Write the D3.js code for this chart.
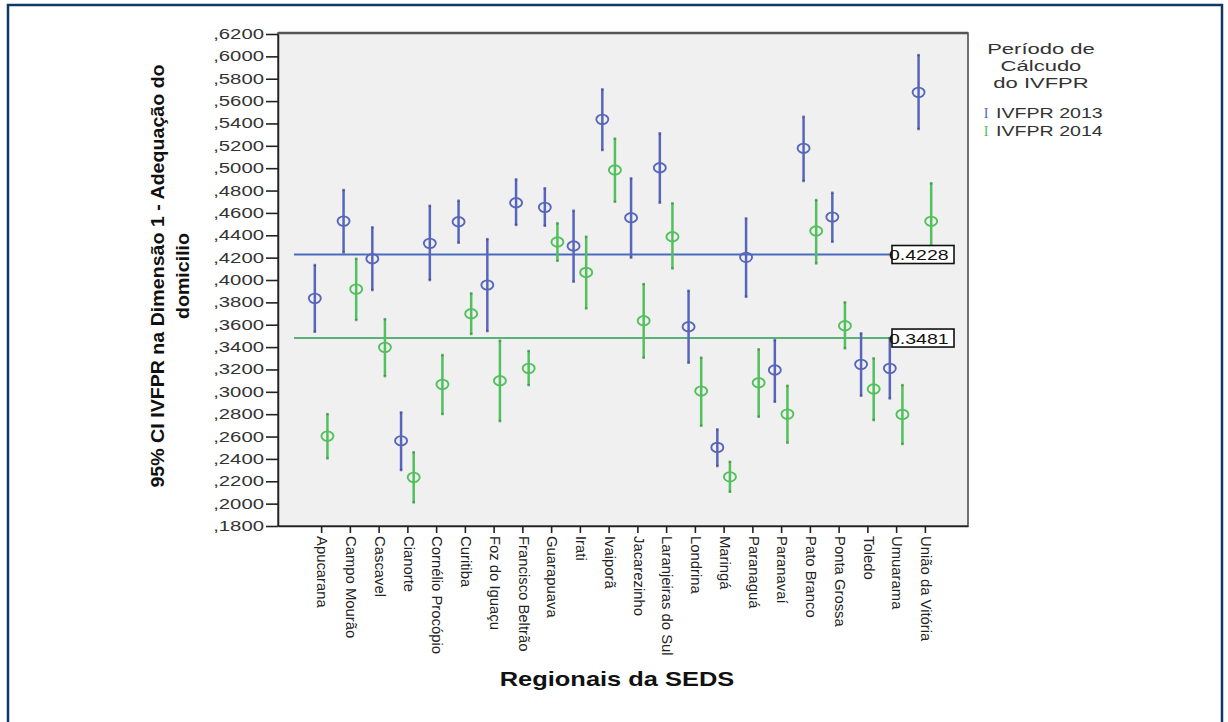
<!DOCTYPE html>
<html>
<head>
<meta charset="utf-8">
<script src="https://cdn.jsdelivr.net/npm/d3@7"></script>
<style>
  body { margin: 0; background: #fff; }
  svg { display: block; font-family: "Liberation Sans", Arial, sans-serif; }
</style>
</head>
<body>
<div id="chart"></div>
<script>
// regions
var regions = ["Apucarana", "Campo Mourão", "Cascavel", "Cianorte", "Cornélio Procópio", "Curitiba",
  "Foz do Iguaçu", "Francisco Beltrão", "Guarapuava", "Irati", "Ivaiporã", "Jacarezinho",
  "Laranjeiras do Sul", "Londrina", "Maringá", "Paranaguá", "Paranavaí", "Pato Branco",
  "Ponta Grossa", "Toledo", "Umuarama", "União da Vitória"];

// IVFPR 2013: mean, lower, upper
var mean2013 = [0.3836, 0.4527, 0.4190, 0.2562, 0.4328, 0.4521, 0.3955, 0.4691, 0.4650, 0.4304, 0.5437,
  0.4557, 0.5004, 0.3582, 0.2503, 0.4203, 0.3195, 0.5178, 0.4563, 0.3246, 0.3210, 0.5678];
var low2013 = [0.3537, 0.4247, 0.3910, 0.2300, 0.3999, 0.4333, 0.3543, 0.4492, 0.4485, 0.3985, 0.5162,
  0.4200, 0.4691, 0.3260, 0.2336, 0.3850, 0.2911, 0.4885, 0.4342, 0.2965, 0.2941, 0.5350];
var up2013 = [0.4134, 0.4805, 0.4471, 0.2816, 0.4664, 0.4709, 0.4366, 0.4900, 0.4820, 0.4620, 0.5705,
  0.4909, 0.5312, 0.3904, 0.2664, 0.4551, 0.3463, 0.5460, 0.4780, 0.3523, 0.3480, 0.6012];

// IVFPR 2014: mean, lower, upper
var mean2014 = [0.2604, 0.3919, 0.3398, 0.2235, 0.3067, 0.3698, 0.3099, 0.3210, 0.4340, 0.4068, 0.4984,
  0.3636, 0.4387, 0.3007, 0.2240, 0.3081, 0.2801, 0.4438, 0.3591, 0.3025, 0.2798, 0.4525];
var low2014 = [0.2405, 0.3642, 0.3140, 0.2011, 0.2801, 0.3517, 0.2738, 0.3060, 0.4172, 0.3746, 0.4700,
  0.3305, 0.4104, 0.2697, 0.2106, 0.2777, 0.2545, 0.4149, 0.3389, 0.2747, 0.2533, 0.4185];
var up2014 = [0.2801, 0.4190, 0.3650, 0.2459, 0.3329, 0.3880, 0.3457, 0.3365, 0.4507, 0.4387, 0.5264,
  0.3964, 0.4686, 0.3305, 0.2374, 0.3380, 0.3054, 0.4715, 0.3800, 0.3299, 0.3060, 0.4865];

var refLines = [0.4228, 0.3481];
var seriesNames = ["IVFPR 2013", "IVFPR 2014"];
var legendTitle = ["Período de", "Cálcudo", "do IVFPR"];
var yTitle = ["95% CI IVFPR na Dimensão 1 - Adequação do", "domicilio"];
var yTicks = d3.range(0.18, 0.6201, 0.02);

var width = 1228, height = 722;
var colors = ["#5766bb", "#52c05c"];
var capColors = ["#3a4589", "#2f8a3c"];
var refColors = ["#4a6cc0", "#5ab27a"];

// the source image draws its text wide in the reading direction
function stretch(sel, k) {
  sel.each(function () {
    var len = this.getComputedTextLength();
    d3.select(this).attr("textLength", len * k).attr("lengthAdjust", "spacingAndGlyphs");
  });
}

var svg = d3.select("#chart").append("svg")
  .attr("width", width).attr("height", height);

// outer frame
svg.append("rect")
  .attr("x", 8).attr("y", 5).attr("width", 1214).attr("height", 740)
  .attr("fill", "none").attr("stroke", "#0d3868").attr("stroke-width", 2.5);

var plotLeft = 278, plotRight = 968, plotTop = 34, plotBottom = 526;

var x = d3.scalePoint().domain(regions).range([plotLeft, plotRight]).padding(1.5);
var y = d3.scaleLinear().domain([0.18, 0.62]).range([plotBottom, plotTop]);

// plot background
svg.append("rect")
  .attr("x", plotLeft).attr("y", plotTop - 1).attr("width", plotRight - plotLeft).attr("height", plotBottom - plotTop + 1)
  .attr("fill", "#f0f0f0").attr("stroke", "#444").attr("stroke-width", 1.5);
svg.append("line")
  .attr("x1", plotLeft).attr("x2", plotRight).attr("y1", plotTop - 1).attr("y2", plotTop - 1)
  .attr("stroke", "#555").attr("stroke-width", 2.5);

// reference lines
refLines.forEach(function (v, i) {
  svg.append("line")
    .attr("x1", plotLeft + 16).attr("x2", 892)
    .attr("y1", y(v)).attr("y2", y(v))
    .attr("stroke", refColors[i]).attr("stroke-width", 2);
});

var series = [
  { mean: mean2013, low: low2013, up: up2013, off: -6.3 },
  { mean: mean2014, low: low2014, up: up2014, off: 6.3 }
];

series.forEach(function (s, si) {
  var g = svg.append("g");
  var pts = regions.map(function (r, i) {
    return { r: r, m: s.mean[i], lo: s.low[i], hi: s.up[i] };
  });
  g.selectAll("line.ci").data(pts).enter().append("line")
    .attr("class", "ci")
    .attr("x1", function (d) { return x(d.r) + s.off; })
    .attr("x2", function (d) { return x(d.r) + s.off; })
    .attr("y1", function (d) { return y(d.lo); })
    .attr("y2", function (d) { return y(d.hi); })
    .attr("stroke", colors[si]).attr("stroke-width", 2.5);
  // small dark caps at the whisker ends
  ["lo", "hi"].forEach(function (k) {
    g.selectAll("rect.cap-" + k).data(pts).enter().append("rect")
      .attr("class", "cap-" + k)
      .attr("x", function (d) { return x(d.r) + s.off - 1.3; })
      .attr("y", function (d) { return y(d[k]) - 1.2; })
      .attr("width", 2.6).attr("height", 2.4)
      .attr("fill", capColors[si]).attr("opacity", 0.7);
  });
  g.selectAll("ellipse").data(pts).enter().append("ellipse")
    .attr("cx", function (d) { return x(d.r) + s.off; })
    .attr("cy", function (d) { return y(d.m); })
    .attr("rx", 6).attr("ry", 4.7)
    .attr("fill", "none")
    .attr("stroke", colors[si]).attr("stroke-width", 1.9);
});

// reference labels
refLines.forEach(function (v) {
  svg.append("rect")
    .attr("x", 892).attr("y", y(v) - 9).attr("width", 62).attr("height", 18)
    .attr("fill", "#fff");
  var t = svg.append("text")
    .attr("x", 889).attr("y", y(v) + 5.5)
    .attr("font-size", 15).attr("fill", "#111")
    .text(v.toFixed(4));
  stretch(t, 1.3);
  svg.append("rect")
    .attr("x", 892).attr("y", y(v) - 9).attr("width", 62).attr("height", 18)
    .attr("fill", "none").attr("stroke", "#111").attr("stroke-width", 1.6);
});

// y axis
var yAxis = d3.axisLeft(y).tickValues(yTicks).tickSize(12).tickSizeOuter(0).tickPadding(2)
  .tickFormat(function (d) { return d3.format(".4f")(d).replace("0.", ","); });
var yg = svg.append("g").attr("transform", "translate(" + plotLeft + ",0)").call(yAxis);
yg.select(".domain").attr("stroke", "#222").attr("stroke-width", 1.5);
yg.selectAll(".tick line").attr("stroke", "#222").attr("stroke-width", 1.6);
yg.selectAll(".tick text").attr("font-size", 14).attr("fill", "#333")
  .attr("font-family", "'Liberation Sans', Arial, sans-serif")
  .call(stretch, 1.45);

// x axis
var xAxis = d3.axisBottom(x).tickSize(7).tickSizeOuter(0).tickPadding(3);
var xg = svg.append("g").attr("transform", "translate(0," + plotBottom + ")").call(xAxis);
xg.select(".domain").attr("stroke", "#222").attr("stroke-width", 1.5);
xg.selectAll(".tick line").attr("stroke", "#222").attr("stroke-width", 1.6);
xg.selectAll(".tick text")
  .attr("font-size", 14).attr("fill", "#222")
  .attr("font-family", "'Liberation Sans', Arial, sans-serif")
  .attr("transform", "rotate(90)")
  .attr("x", 10).attr("y", 0).attr("dy", "0.3em")
  .style("text-anchor", "start")
  .call(stretch, 1.06);

// axis titles
yTitle.forEach(function (line, i) {
  var t = svg.append("text")
    .attr("transform", "translate(" + (164 + i * 25) + ",276) rotate(-90)")
    .attr("text-anchor", "middle").attr("font-size", 18.5).attr("font-weight", "bold")
    .attr("fill", "#111")
    .text(line);
  stretch(t, 1.06);
});

var xt = svg.append("text")
  .attr("x", 617).attr("y", 686)
  .attr("text-anchor", "middle").attr("font-size", 20.5).attr("font-weight", "bold")
  .attr("fill", "#111")
  .text("Regionais da SEDS");
stretch(xt, 1.24);

// legend
var legend = svg.append("g").attr("id", "legend");
legendTitle.forEach(function (line, i) {
  var t = legend.append("text")
    .attr("x", 1041).attr("y", 54 + i * 17)
    .attr("text-anchor", "middle").attr("font-size", 15.5).attr("fill", "#333")
    .text(line);
  stretch(t, 1.42);
});

seriesNames.forEach(function (n, i) {
  var ly = 113 + i * 18;
  legend.append("text")
    .attr("x", 986).attr("y", ly + 5)
    .attr("text-anchor", "middle").attr("font-size", 14).attr("font-family", "'Liberation Serif', serif")
    .attr("fill", colors[i]).text("I");
  var t = legend.append("text")
    .attr("x", 996).attr("y", ly + 5)
    .attr("font-size", 14).attr("fill", "#333").text(n);
  stretch(t, 1.4);
});
</script>
</body>
</html>
